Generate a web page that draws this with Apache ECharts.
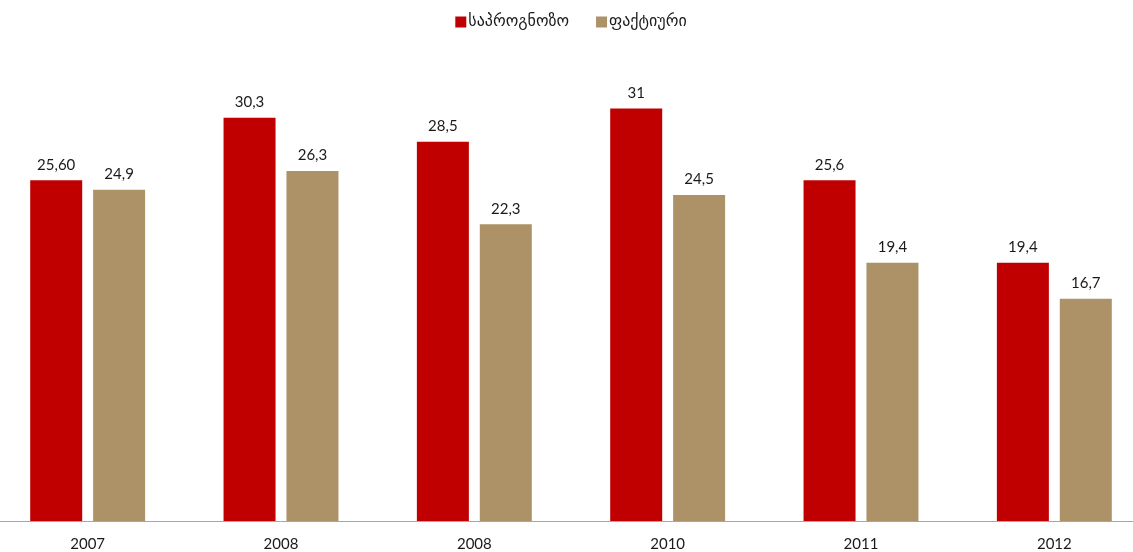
<!DOCTYPE html>
<html>
<head>
<meta charset="utf-8">
<script src="https://cdn.jsdelivr.net/npm/echarts@6/dist/echarts.min.js"></script>
<style>
  html, body { margin: 0; padding: 0; background: #fff; overflow: hidden; }
  body { width: 1133px; height: 552px; position: relative; }
  /* the plot runs slightly past the left edge of the page */
  #chart { position: absolute; left: -9px; top: 0; width: 1160px; height: 552px; }
</style>
</head>
<body>
<div id="chart"></div>
<script>
// Years on the category axis (2008 appears twice, as labelled)
const years = ['2007', '2008', '2008', '2010', '2011', '2012'];
// Forecast values, kept as written so labels keep their decimals
const planned = ['25.60', '30.3', '28.5', '31', '25.6', '19.4'];
// Actual values
const actual = ['24.9', '26.3', '22.3', '24.5', '19.4', '16.7'];

const seriesNames = ['საპროგნოზო', 'ფაქტიური'];
const colors = ['#C00000', '#AD9268'];

const chart = echarts.init(document.getElementById('chart'));

function labelFor(list) {
  return function (p) { return list[p.dataIndex].replace('.', ','); };
}

const labelStyle = {
  show: true,
  position: 'top',
  distance: 8,
  color: '#1a1a1a',
  fontFamily: 'Lato, "Noto Sans", sans-serif',
  fontSize: 15
};

chart.setOption({
  animation: false,
  backgroundColor: '#ffffff',
  legend: {
    top: 9,
    left: 'center',
    itemWidth: 11,
    itemHeight: 11,
    itemGap: 27,
    icon: 'rect',
    textStyle: {
      fontFamily: '"DejaVu Sans", "Noto Sans", sans-serif',
      fontSize: 16,
      color: '#1a1a1a',
      padding: [0, 0, 0, -3]
    },
    data: seriesNames
  },
  grid: { left: 0, right: 0, top: 2, bottom: 31, containLabel: false },
  xAxis: {
    type: 'category',
    data: years,
    axisTick: { show: false },
    axisLine: { lineStyle: { color: '#a6a6a6', width: 1 } },
    axisLabel: {
      color: '#1a1a1a',
      fontFamily: 'Lato, "Noto Sans", sans-serif',
      fontSize: 15,
      margin: 16
    }
  },
  yAxis: {
    type: 'value',
    min: 0,
    max: 39,
    show: false,
    splitLine: { show: false }
  },
  series: [
    {
      name: seriesNames[0],
      type: 'bar',
      data: planned.map(Number),
      barWidth: 52,
      barGap: '21%',
      itemStyle: { color: colors[0] },
      label: Object.assign({ formatter: labelFor(planned) }, labelStyle)
    },
    {
      name: seriesNames[1],
      type: 'bar',
      data: actual.map(Number),
      barWidth: 52,
      itemStyle: { color: colors[1] },
      label: Object.assign({ formatter: labelFor(actual) }, labelStyle)
    }
  ]
});
</script>
</body>
</html>
